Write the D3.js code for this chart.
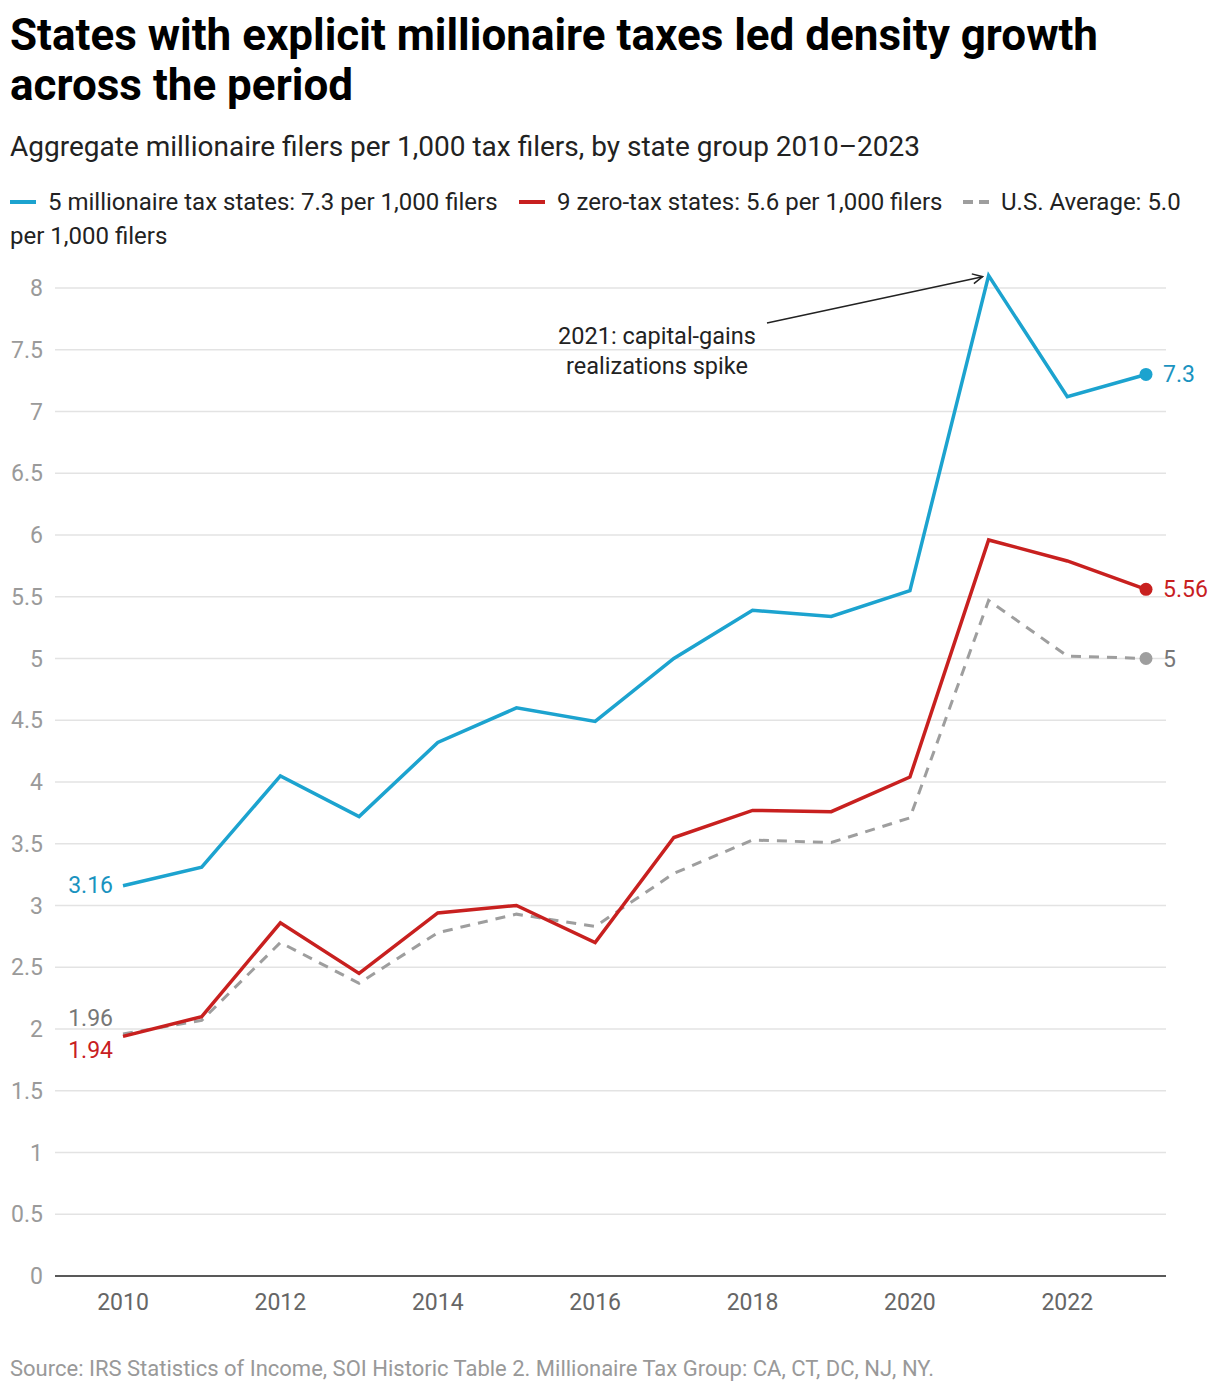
<!DOCTYPE html>
<html>
<head>
<meta charset="utf-8">
<script src="https://cdn.jsdelivr.net/npm/d3@7"></script>
<style>
  body { margin: 0; background: #fff; font-family: Roboto, "Noto Sans", sans-serif; }
  svg text { font-family: Roboto, "Noto Sans", sans-serif; }
</style>
</head>
<body>
<svg id="chart" width="1220" height="1394"></svg>
<script>
// years on the x axis
const years = [2010, 2011, 2012, 2013, 2014, 2015, 2016, 2017, 2018, 2019, 2020, 2021, 2022, 2023];

// millionaire filers per 1,000 tax filers
const millionaireTaxStates = [3.16, 3.31, 4.05, 3.72, 4.32, 4.60, 4.49, 5.00, 5.39, 5.34, 5.55, 8.10, 7.12, 7.30];
const zeroTaxStates = [1.94, 2.10, 2.86, 2.45, 2.94, 3.00, 2.70, 3.55, 3.77, 3.76, 4.04, 5.96, 5.79, 5.56];
const usAverage = [1.96, 2.07, 2.70, 2.37, 2.78, 2.93, 2.83, 3.26, 3.53, 3.51, 3.71, 5.47, 5.02, 5.00];

const yTicks = [0, 0.5, 1, 1.5, 2, 2.5, 3, 3.5, 4, 4.5, 5, 5.5, 6, 6.5, 7, 7.5, 8];
const xTicks = [2010, 2012, 2014, 2016, 2018, 2020, 2022];

const seriesNames = [
  '5 millionaire tax states: 7.3 per 1,000 filers',
  '9 zero-tax states: 5.6 per 1,000 filers',
  'U.S. Average: 5.0'
];

const blue = '#1ca3cf', red = '#c8201f', gray = '#9e9e9e';

const svg = d3.select('#chart');

// title and subtitle
svg.append('text').attr('x', 10).attr('y', 50)
  .attr('font-size', 44).attr('font-weight', 700).attr('fill', '#000')
  .text('States with explicit millionaire taxes led density growth');
svg.append('text').attr('x', 10).attr('y', 100)
  .attr('font-size', 44).attr('font-weight', 700).attr('fill', '#000')
  .text('across the period');
svg.append('text').attr('x', 10).attr('y', 156)
  .attr('font-size', 28).attr('fill', '#222')
  .text('Aggregate millionaire filers per 1,000 tax filers, by state group 2010\u20132023');

// legend
const legend = [
  { x: 10, color: blue, dash: null, label: seriesNames[0] },
  { x: 519, color: red, dash: null, label: seriesNames[1] },
  { x: 963, color: gray, dash: '10,6', label: seriesNames[2] }
];
legend.forEach(d => {
  svg.append('line').attr('x1', d.x).attr('x2', d.x + 26).attr('y1', 202).attr('y2', 202)
    .attr('stroke', d.color).attr('stroke-width', 4).attr('stroke-dasharray', d.dash);
  svg.append('text').attr('x', d.x + 38).attr('y', 210)
    .attr('font-size', 24).attr('fill', '#222').text(d.label);
});
svg.append('text').attr('x', 10).attr('y', 244)
  .attr('font-size', 24).attr('fill', '#222').text('per 1,000 filers');

// scales
const x = d3.scaleLinear().domain([2010, 2023]).range([123, 1146]);
const y = d3.scaleLinear().domain([0, 8]).range([1276, 288]);
const left = 55, right = 1166;

// gridlines and y labels
const grid = svg.append('g');
yTicks.forEach(t => {
  if (t > 0) {
    grid.append('line').attr('x1', left).attr('x2', right)
      .attr('y1', y(t)).attr('y2', y(t))
      .attr('stroke', '#e3e3e3').attr('stroke-width', 1.5);
  }
  grid.append('text').attr('x', 43).attr('y', y(t) + 8)
    .attr('text-anchor', 'end').attr('font-size', 23).attr('fill', '#9a9a9a')
    .text(t);
});

// x axis
svg.append('line').attr('x1', left).attr('x2', right)
  .attr('y1', y(0)).attr('y2', y(0)).attr('stroke', '#222').attr('stroke-width', 1.5);
xTicks.forEach(t => {
  svg.append('text').attr('x', x(t)).attr('y', 1310)
    .attr('text-anchor', 'middle').attr('font-size', 23).attr('fill', '#666')
    .text(t);
});

// lines
const line = d3.line().x(d => x(d[0])).y(d => y(d[1]));
const series = [
  { values: usAverage, color: gray, dash: '10,8', width: 3 },
  { values: zeroTaxStates, color: red, dash: null, width: 3.5 },
  { values: millionaireTaxStates, color: blue, dash: null, width: 3.5 }
];
series.forEach(s => {
  const pts = years.map((yr, i) => [yr, s.values[i]]);
  svg.append('path').datum(pts).attr('d', line)
    .attr('fill', 'none').attr('stroke', s.color).attr('stroke-width', s.width)
    .attr('stroke-dasharray', s.dash).attr('stroke-linejoin', 'miter');
  const last = pts[pts.length - 1];
  svg.append('circle').attr('cx', x(last[0])).attr('cy', y(last[1])).attr('r', 6.5)
    .attr('fill', s.color);
});

// end labels
const lastIdx = years.length - 1;
[
  { v: millionaireTaxStates[lastIdx], c: '#1a93c0', t: '7.3' },
  { v: zeroTaxStates[lastIdx], c: red, t: '5.56' },
  { v: usAverage[lastIdx], c: '#777', t: '5' }
].forEach(d => {
  svg.append('text').attr('x', x(2023) + 17).attr('y', y(d.v) + 8)
    .attr('font-size', 23).attr('fill', d.c).text(d.t);
});

// start labels
svg.append('text').attr('x', 113).attr('y', y(millionaireTaxStates[0]) + 7)
  .attr('text-anchor', 'end').attr('font-size', 23).attr('fill', '#1a93c0').text('3.16');
svg.append('text').attr('x', 113).attr('y', y(usAverage[0]) - 8)
  .attr('text-anchor', 'end').attr('font-size', 23).attr('fill', '#777').text('1.96');
svg.append('text').attr('x', 113).attr('y', y(zeroTaxStates[0]) + 22)
  .attr('text-anchor', 'end').attr('font-size', 23).attr('fill', red).text('1.94');

// annotation with arrow to 2021 peak
const peak = [x(2021) - 6, y(millionaireTaxStates[11]) + 1];
svg.append('defs').append('marker').attr('id', 'arrow')
  .attr('viewBox', '0 0 12 12').attr('refX', 11).attr('refY', 6)
  .attr('markerWidth', 12).attr('markerHeight', 12).attr('markerUnits', 'userSpaceOnUse')
  .attr('orient', 'auto')
  .append('path').attr('d', 'M1,1 L11,6 L1,11').attr('fill', 'none')
  .attr('stroke', '#222').attr('stroke-width', 1.5);
svg.append('line').attr('x1', 767).attr('y1', 323).attr('x2', peak[0]).attr('y2', peak[1])
  .attr('stroke', '#222').attr('stroke-width', 1.5).attr('marker-end', 'url(#arrow)');
svg.append('text').attr('x', 657).attr('y', 344).attr('text-anchor', 'middle')
  .attr('font-size', 23.5).attr('fill', '#222').text('2021: capital-gains');
svg.append('text').attr('x', 657).attr('y', 374).attr('text-anchor', 'middle')
  .attr('font-size', 23.5).attr('fill', '#222').text('realizations spike');

// source
svg.append('text').attr('x', 10).attr('y', 1376)
  .attr('font-size', 22).attr('fill', '#999')
  .text('Source: IRS Statistics of Income, SOI Historic Table 2. Millionaire Tax Group: CA, CT, DC, NJ, NY.');
</script>
</body>
</html>
